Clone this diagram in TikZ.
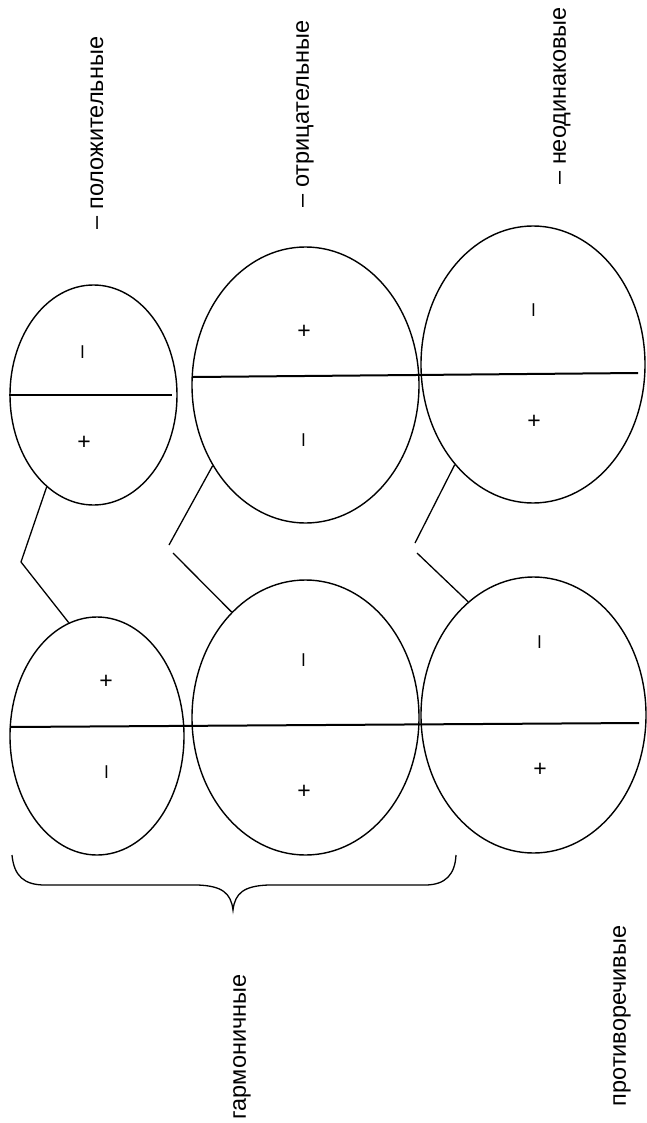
\documentclass[tikz,border=0pt]{standalone}
\usepackage{fontspec}
\setmainfont{Liberation Sans}
\usetikzlibrary{shapes.geometric}
\tikzset{
  oval/.style={
    shape = ellipse,
    draw,
    line width = 1.4pt,
    inner sep = 0pt
  },
  divider/.style={
    line width = 2pt
  },
  link/.style={
    line width = 1.3pt
  },
  plussign/.style={
    font = \fontsize{23}{23}\selectfont,
    inner sep = 0pt
  },
  minussign/.style={
    rotate = 90,
    font = \fontsize{23}{23}\selectfont,
    inner sep = 0pt
  },
  typeword/.style={
    rotate = 90,
    font = \fontsize{23.5}{24}\selectfont,
    inner sep = 0pt
  }
}

\begin{document}
\begin{tikzpicture}[x=1pt,y=-1pt]
    \useasboundingbox (0,0) rectangle (647,1123);
    % first row
    \node[oval, minimum width=167pt, minimum height=220pt] (e1) at (93.5,395) {};
    \node[oval, minimum width=227pt, minimum height=276pt] (e2) at (305.5,385) {};
    \node[oval, minimum width=224pt, minimum height=277pt] (e3) at (533,364.5) {};
    % second row
    \node[oval, minimum width=174pt, minimum height=238pt] (e4) at (97,736) {};
    \node[oval, minimum width=227pt, minimum height=275pt] (e5) at (305.5,717.5) {};
    \node[oval, minimum width=225pt, minimum height=276pt] (e6) at (533.5,715) {};

    \coordinate (cut2) at (193,377);
    \coordinate (cut3) at (638,373);
    \coordinate (cut4) at (10,727);
    \coordinate (cut6) at (639,723);
    \draw[divider] (e1.west) -- ([xshift=-6pt]e1.east);
    \draw[divider] (cut2) -- (cut3);
    \draw[divider] (cut4) -- (cut6);

    \node[minussign] (m1) at (85,352) {–};
    \node[plussign] (p1) at (84,443) {+};
    \node[plussign] (p2) at (304,332) {+};
    \node[minussign] (m2) at (306,440) {–};
    \node[minussign] (m3) at (536,310) {–};
    \node[plussign] (p3) at (534,422) {+};
    \node[plussign] (p4) at (106,682) {+};
    \node[minussign] (m4) at (109,772) {–};
    \node[minussign] (m5) at (306,660) {–};
    \node[plussign] (p5) at (304,792) {+};
    \node[minussign] (m6) at (542,642) {–};
    \node[plussign] (p6) at (540,770) {+};

    \coordinate (k1) at (21,562);
    \coordinate (k2a) at (169,545);
    \coordinate (k2b) at (173,553);
    \coordinate (k3a) at (415,543);
    \coordinate (k3b) at (417,553);
    \draw[link] (e1.243) -- (k1) -- (e4.104);
    \draw[link] (e2.221) -- (k2a);
    \draw[link] (k2b) -- (e5.125);
    \draw[link] (e3.232) -- (k3a);
    \draw[link] (k3b) -- (e6.120);

    \coordinate (bl) at (12,855);
    \coordinate (bt) at (233,910);
    \coordinate (br) at (456,855);
    \draw[link] (bl) .. controls (14,876) and (24,885) .. (45,885) -- (198,885)
        .. controls (222,886) and (231,893) .. (bt)
        .. controls (235,893) and (244,886) .. (268,885) -- (425,885)
        .. controls (446,885) and (455,874) .. (br);

    \node[typeword] (pos) at (97,133) {– положительные};
    \node[typeword] (neg) at (305,114) {– отрицательные};
    \node[typeword] (mix) at (562,96) {– неодинаковые};
    \node[typeword] (harm) at (242,1047) {гармоничные};
    \node[typeword] (contr) at (622,1016) {противоречивые};
\end{tikzpicture}
\end{document}
